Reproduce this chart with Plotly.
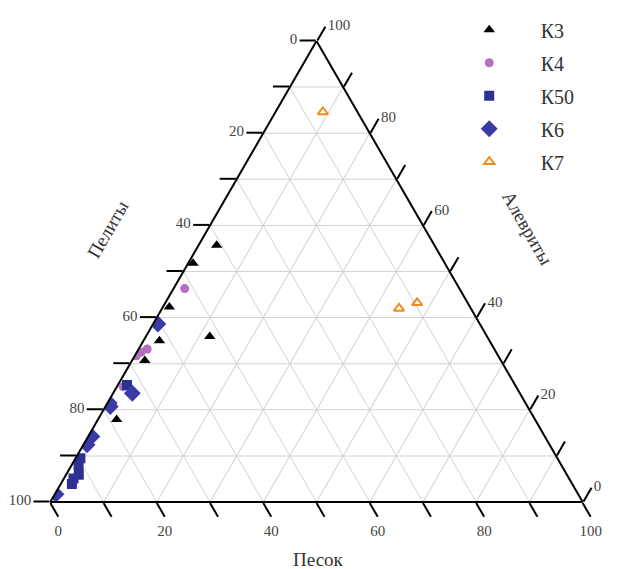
import plotly.graph_objects as go

# Data: Алевриты (aleurite), Пелиты (pelite), Песок (sand), %
k3_aleur = [55.7, 51.8, 42.3, 35.0, 35.9, 30.7, 17.9]
k3_pel   = [40.9, 47.3, 56.5, 62.0, 52.1, 66.9, 78.6]
k3_sand  = [3.4, 0.9, 1.2, 3.0, 12.0, 2.4, 3.5]

k4_aleur = [46.3, 33.2, 32.5, 31.7, 25.0]
k4_pel   = [51.6, 65.2, 66.7, 68.0, 73.8]
k4_sand  = [2.1, 1.6, 0.8, 0.3, 1.2]

k50_aleur = [25.4, 9.5, 8.0, 5.9, 5.1, 3.9]
k50_pel   = [72.9, 89.6, 90.7, 91.7, 93.1, 94.0]
k50_sand  = [1.7, 0.9, 1.3, 2.4, 1.8, 2.1]

k6_aleur = [38.6, 23.6, 20.7, 21.5, 14.2, 12.4, 1.7]
k6_pel   = [60.5, 72.8, 78.4, 78.2, 85.1, 86.9, 98.1]
k6_sand  = [0.9, 3.6, 0.9, 0.3, 0.7, 0.7, 0.2]

k7_aleur = [84.6, 42.0, 43.2]
k7_pel   = [6.5, 13.5, 9.5]
k7_sand  = [8.9, 44.5, 47.3]

tick_vals = list(range(0, 101, 10))
tick_text = [str(100 - v) if v % 20 == 0 else "" for v in tick_vals]

FONT = "Liberation Serif"

fig = go.Figure()

def add(name, a, b, c, symbol, color, size, line=None):
    fig.add_trace(go.Scatterternary(
        a=a, b=b, c=c, mode="markers", name=name, legendgroup=name,
        marker=dict(symbol=symbol, color=color, size=size,
                    line=line or dict(width=0)),
    ))

add("К3", k3_aleur, k3_pel, k3_sand, "triangle-up", "black", 10)
add("К4", k4_aleur, k4_pel, k4_sand, "circle", "#b46fc0", 9)
add("К50", k50_aleur, k50_pel, k50_sand, "square", "#2e3192", 10)
add("К6", k6_aleur, k6_pel, k6_sand, "diamond", "#3a3aa6", 13)
add("К7", k7_aleur, k7_pel, k7_sand, "triangle-up-open", "#f08c1e", 9,
    line=dict(width=2, color="#f08c1e"))

axis_common = dict(
    tickmode="array", tickvals=tick_vals, ticktext=tick_text,
    ticks="outside", ticklen=16, tickwidth=2, tickcolor="black",
    linecolor="black", linewidth=2,
    gridcolor="#d2d2d2", gridwidth=1, showgrid=True,
    tickfont=dict(family=FONT, size=15, color="#444444"),
    title=dict(text=""),
)

fig.update_layout(
    width=620, height=569,
    paper_bgcolor="white",
    margin=dict(l=0, r=0, t=0, b=0),
    ternary=dict(
        sum=100,
        bgcolor="white",
        domain=dict(x=[50 / 620, 583 / 620], y=[(569 - 502) / 569, (569 - 41) / 569]),
        aaxis=axis_common,
        baxis=axis_common,
        caxis=axis_common,
    ),
    legend=dict(
        x=0.706, y=0.982, xanchor="left", yanchor="top",
        font=dict(family=FONT, size=20, color="#333333"),
        bgcolor="rgba(0,0,0,0)",
        traceorder="grouped", tracegroupgap=4,
        itemwidth=93,
    ),
    showlegend=True,
    annotations=[
        dict(text="Пелиты", x=108 / 620, y=1 - 230 / 569, xref="paper", yref="paper",
             xanchor="center", yanchor="middle",
             showarrow=False, textangle=-60, font=dict(family=FONT, size=19, color="#333333")),
        dict(text="Алевриты", x=528 / 620, y=1 - 228 / 569, xref="paper", yref="paper",
             xanchor="center", yanchor="middle",
             showarrow=False, textangle=60, font=dict(family=FONT, size=19, color="#333333")),
        dict(text="Песок", x=318 / 620, y=1 - 559 / 569, xref="paper", yref="paper",
             xanchor="center", yanchor="middle",
             showarrow=False, font=dict(family=FONT, size=19, color="#333333")),
    ],
)

fig.write_html("out.html")
